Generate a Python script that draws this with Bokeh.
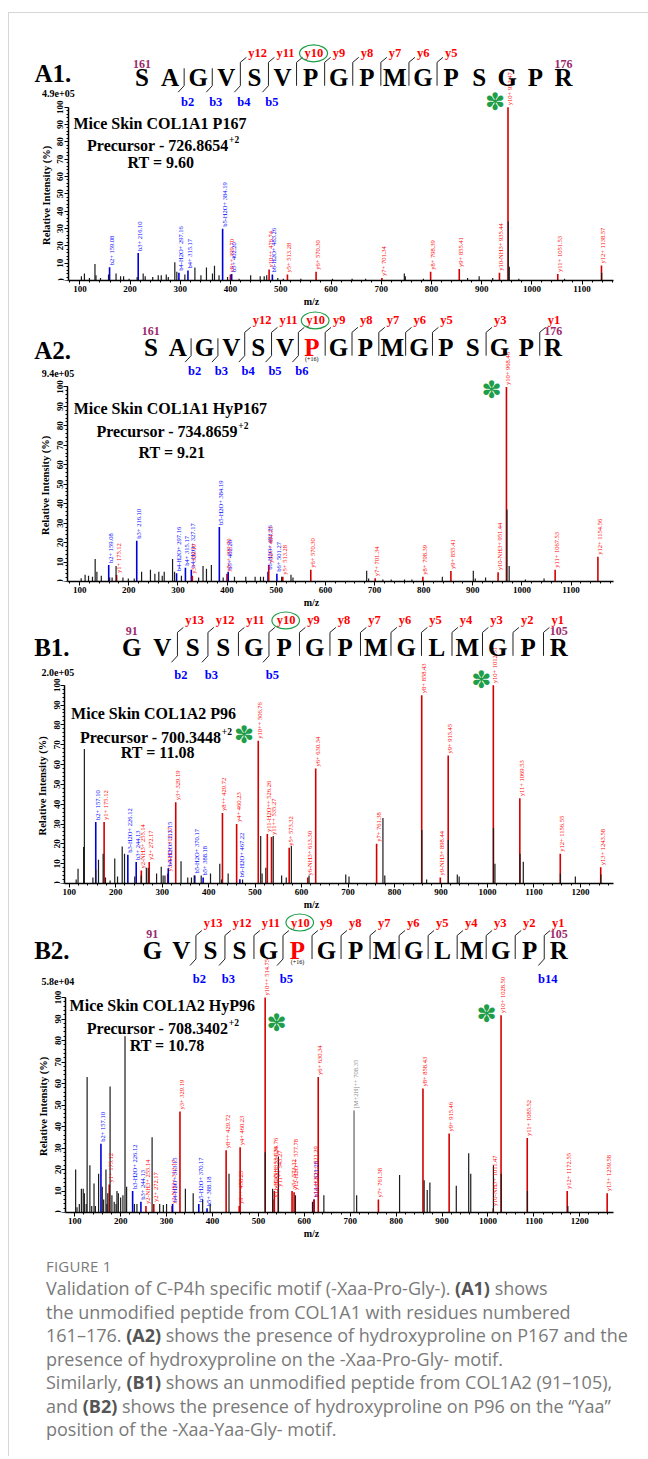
import math
from bokeh.plotting import figure
from bokeh.models import Range1d, SingleIntervalTicker, ColumnDataSource, Div
from bokeh.layouts import column
from bokeh.core.properties import value
from bokeh.embed import file_html
from bokeh.resources import INLINE

SERIF = "Liberation Serif"

# ---------------------------------------------------------------- data
# ----- A1 : COL1A1 P167
a1_seq = list("SAGVSVPGPMGPSGPR")
a1_numbers = ["161", "176"]
a1_y_ions = [12, 11, 10, 9, 8, 7, 6, 5]
a1_b_ions = [2, 3, 4, 5]
a1_texts = ["Mice Skin COL1A1 P167", "Precursor - 726.8654", "+2", "RT = 9.60", "4.9e+05"]
a1_ion_name = ["b2+", "b3+", "b4-H2O+", "b4+", "b5-H2O+", "y8++", "b5+", "y10++", "b6-H2O+", "y5+",
               "y6+", "y7+", "y8+", "y9+", "y10-NH3+", "y10+", "y11+", "y12+"]
a1_ion_mz = [159.08, 216.10, 297.16, 315.17, 384.19, 399.70, 402.20, 476.74, 483.26, 513.28,
             570.30, 701.34, 798.39, 855.41, 935.44, 952.47, 1051.53, 1138.57]
a1_ion_int = [7.6, 15.8, 4.5, 5.7, 29.8, 3.5, 3.8, 6.3, 3.5, 3.5,
              5.0, 1.5, 5.0, 6.7, 4.4, 100, 3.8, 8.6]
a1_noise_mz = [103, 109, 119, 130, 132, 141, 157, 172, 181, 187, 198, 214, 226, 230, 245, 256, 262,
               272, 276, 289, 293, 309, 329, 341, 352, 364, 368, 377, 394, 417, 440, 459, 467, 472,
               494, 505, 540, 603, 642, 669, 746, 748, 784, 872, 895, 922, 953, 955, 974, 1065, 1139]
a1_noise_int = [2.5, 4, 1.5, 9.5, 3, 1.5, 3.5, 4, 2.5, 2.5, 1, 2, 4, 2.5, 2, 3, 3,
                3.5, 2, 10.5, 5, 3.5, 7.5, 3, 7.5, 4, 8.5, 3, 2, 1, 3, 2.5, 2.5, 3,
                1.5, 1, 1, 1, 1, 1, 4, 2.5, 1, 1.5, 2.5, 1.5, 34, 8, 1, 1, 4.5]

# ----- A2 : COL1A1 HyP167
a2_seq = list("SAGVSVPGPMGPSGPR")
a2_numbers = ["161", "176"]
a2_y_ions = [12, 11, 10, 9, 8, 7, 6, 5, 3, 1]
a2_b_ions = [2, 3, 4, 5, 6]
a2_texts = ["Mice Skin COL1A1 HyP167", "Precursor - 734.8659", "+2", "RT = 9.21", "9.4e+05"]
a2_ion_name = ["b2+", "y1+", "b3+", "b4-H2O+", "b4+", "b4-H2O+", "y3+", "b5-H2O+", "y8++", "b5+",
               "b6-H2O+", "y10++", "b6+", "y5+", "y6+", "y7+", "y8+", "y9+", "y10-NH3+", "y10+",
               "y11+", "y12+"]
a2_ion_mz = [159.08, 175.12, 216.10, 297.16, 315.17, 327.17, 329.19, 384.19, 399.70, 402.20,
             483.26, 484.73, 501.27, 513.28, 570.30, 701.34, 798.39, 855.41, 951.44, 968.46,
             1067.53, 1154.56]
a2_ion_int = [8.5, 3.4, 21.0, 4.2, 7.1, 6.0, 3.0, 28.0, 4.0, 5.0,
              5.0, 8.5, 4.0, 2.5, 6.0, 1.7, 2.5, 5.4, 4.7, 100,
              6.0, 12.7]
a2_noise_mz = [103, 111, 118, 126, 131.5, 135, 144, 161, 166, 174, 188, 199, 211, 226, 244, 253, 261,
               268, 272, 289, 293, 307, 342, 351, 358, 368, 392, 415, 438, 457, 468, 474, 511, 530,
               534, 684, 688, 717, 734, 761, 776, 838, 901, 905, 926, 969.5, 974, 1007, 1045]
a2_noise_int = [1.7, 3.5, 3, 2.5, 11.5, 5, 3, 2, 2, 8, 2, 1.5, 1.5, 5, 6, 4, 5,
                3, 5, 11.5, 5, 3, 2, 8, 6.5, 8.5, 2, 2.5, 2.5, 2.5, 2.5, 2.5, 2.5, 3.5,
                2, 5.5, 1.5, 1, 1, 1, 1, 2.5, 5.5, 1.5, 2, 37, 8, 1, 1.5]

# ----- B1 : COL1A2 P96
b1_seq = list("GVSSGPGPMGLMGPR")
b1_numbers = ["91", "105"]
b1_y_ions = [13, 12, 11, 10, 9, 8, 7, 6, 5, 4, 3, 2, 1]
b1_b_ions = [2, 3, 5]
b1_texts = ["Mice Skin COL1A2 P96", "Precursor - 700.3448", "+2", "RT = 11.08", "2.0e+05"]
b1_ion_name = ["b2+", "y1+", "b3-H2O+", "b3+", "y2-NH3+", "y2+", "y3-NH3+", "b4-H2O+", "y3+",
               "b5-H2O+", "b5+", "y8++", "y4+", "b6-H2O+", "y10++", "y11-H2O++", "y11++", "y5+",
               "y6-NH3+", "y6+", "y7+", "y8+", "y9-NH3+", "y9+", "y10+", "y11+", "y12+", "y13+"]
b1_ion_mz = [157.10, 175.12, 226.12, 244.13, 255.14, 272.17, 312.17, 313.15, 329.19,
             370.17, 388.18, 429.72, 460.23, 467.22, 506.76, 526.26, 535.27, 573.32,
             613.30, 630.34, 761.38, 858.43, 898.44, 915.45, 1012.51, 1069.53, 1156.55, 1243.58]
b1_ion_int = [31, 31, 14.5, 10.8, 6.5, 10.8, 5, 7.7, 41,
              4, 3, 35.5, 30, 2.2, 72, 25, 23.5, 18,
              3, 58, 20, 95, 3, 64.5, 100, 43, 15, 8.2]
b1_noise_mz = [115, 119, 131, 132.6, 151, 157, 163, 173, 178, 188, 198, 204, 214, 219, 241, 255, 266,
               270, 288, 298, 302, 306, 340.6, 355, 363, 369, 384, 404, 424, 428, 442, 473, 512,
               515, 523, 539, 557, 567, 578, 616, 695, 702, 775, 779, 858.6, 869, 915.8, 935, 939,
               1012.9, 1016, 1069.9, 1077, 1156.9, 1189, 1243.9]
b1_noise_int = [2, 7.5, 18.4, 67.8, 3, 7, 12, 15, 3, 1.5, 12.6, 3.5, 18.6, 15, 3.5, 4, 8,
                8, 5, 8.5, 4, 4, 11.2, 3, 3, 4, 4, 5, 10, 2, 5, 2, 24,
                5, 8, 24, 4, 3, 19, 4, 4.5, 3.5, 33, 4, 27, 2, 22, 4.5, 3.5,
                28, 10, 15, 11, 5, 3.5, 4.5]

# ----- B2 : COL1A2 HyP96
b2_seq = list("GVSSGPGPMGLMGPR")
b2_numbers = ["91", "105"]
b2_y_ions = [13, 12, 11, 10, 9, 8, 7, 6, 5, 4, 3, 2, 1]
b2_b_ions = [2, 3, 5, 14]
b2_texts = ["Mice Skin COL1A2 HyP96", "Precursor - 708.3402", "+2", "RT = 10.78", "5.8e+04"]
b2_ion_name = ["b2+", "y1+", "b3-H2O+", "b3+", "y2-NH3+", "y2+", "y3-NH3+", "b4-H2O+", "y3+",
               "b5-H2O+", "b5+", "y8++", "y9++", "y4+", "y10++", "y11-H2O++", "y11-NH3++", "y11++",
               "y5+", "y12-H2O++", "b14++", "y13-H2O++", "y6+", "[M+2H]++", "y7+", "y8+", "y9+",
               "y10-NH3+", "y10+", "y11+", "y12+", "y13+"]
b2_ion_mz = [157.10, 175.12, 226.12, 244.13, 255.14, 272.17, 312.17, 313.15, 329.19,
             370.17, 388.18, 429.72, 458.23, 460.23, 514.75, 534.26, 534.76, 543.27,
             573.32, 577.78, 621.28, 621.29, 630.34, 708.35, 761.38, 858.43, 915.46,
             1011.47, 1028.50, 1085.52, 1172.55, 1259.58]
b2_ion_int = [32, 13, 10, 5, 3, 4, 3, 4, 47,
              4, 2, 29, 3, 30.3, 100, 6, 10, 11,
              10, 9.4, 6, 6, 63, 47.5, 6, 57.7, 36.7,
              2, 91.8, 34.7, 10, 9]
b2_noise_mz = [102, 105, 110, 114.5, 118.5, 121, 125, 127, 133, 137, 142, 145, 152, 160, 163, 168,
               170, 172, 177, 181, 186, 190, 192, 195, 200, 205, 209.5, 213, 230, 235.5, 268.5, 285,
               293, 300, 341, 358, 378.6, 395, 436, 514.9, 531, 543.6, 580.7, 617.8, 642.6, 714,
               807.5, 861, 867.7, 873.5, 931, 958, 962.5, 1011.9, 1028.9, 1086, 1174]
b2_noise_int = [20, 2.5, 4, 11, 11, 9, 4, 63, 22, 3, 13.5, 3, 18, 12, 6, 20,
                4, 9, 58.6, 8, 5, 4, 10, 9, 7, 8, 82, 12, 4, 4, 35, 4,
                3.5, 4, 11, 9, 6, 4, 18, 28, 11, 26, 8, 5, 8, 8,
                17.5, 15, 10.5, 14, 12.5, 27.6, 18, 22, 18, 10, 3]

caption_title = "FIGURE 1"
caption_lines = [
    "Validation of C-P4h specific motif (-Xaa-Pro-Gly-). <b>(A1)</b> shows",
    "the unmodified peptide from COL1A1 with residues numbered",
    "161\u2013176. <b>(A2)</b> shows the presence of hydroxyproline on P167 and the",
    "presence of hydroxyproline on the -Xaa-Pro-Gly- motif.",
    "Similarly, <b>(B1)</b> shows an unmodified peptide from COL1A2 (91\u2013105),",
    "and <b>(B2)</b> shows the presence of hydroxyproline on P96 on the \u201cYaa\u201d",
    "position of the -Xaa-Yaa-Gly- motif.",
]

# ---------------------------------------------------------------- layout
PAGE_X0 = 9          # left edge of the figures on the page (8px margin + 1px border)
FIG_W = 631
RED_LINE, BLUE_LINE, GRAY_LINE = "#d40000", "#0000d8", "#8a8a8a"
RED_TXT, BLUE_TXT, GRAY_TXT = "#ff0000", "#0000ff", "#8a8a8a"
GREEN = "#1e9e48"
NUM_COL = "#9b2a6c"

panels = [
    dict(tag="A1.", seq=a1_seq, nums=a1_numbers, yi=a1_y_ions, bi=a1_b_ions, texts=a1_texts,
         names=a1_ion_name, mz=a1_ion_mz, inten=a1_ion_int, nmz=a1_noise_mz, nint=a1_noise_int,
         mod=None,
         top=13, y100=107, y0=281, bottom=309, fl=68, fr=613, x100=79.4, ppm=0.5022,
         x0=141.5, step=28.1, seq_y=77, ylab_y=53, num_y=64, blab_y=102, mod_y=None,
         tag_xy=(34, 73), scale_xy=(41.5, 93),
         title_xy=(73, 123), prec_xy=(228, 145), rt_xy=(127, 163),
         stars=[(15, -13, -5)], free_stars=[]),
    dict(tag="A2.", seq=a2_seq, nums=a2_numbers, yi=a2_y_ions, bi=a2_b_ions, texts=a2_texts,
         names=a2_ion_name, mz=a2_ion_mz, inten=a2_ion_int, nmz=a2_noise_mz, nint=a2_noise_int,
         mod=6,
         top=309, y100=387, y0=583, bottom=610, fl=68, fr=620, x100=80.0, ppm=0.4971,
         x0=152, step=27.13, seq_y=347, ylab_y=320, num_y=331, blab_y=371, mod_y=359,
         tag_xy=(34, 350), scale_xy=(41.5, 373),
         title_xy=(74, 409), prec_xy=(240, 432), rt_xy=(139.6, 453),
         stars=[(19, -15, 3)], free_stars=[]),
    dict(tag="B1.", seq=b1_seq, nums=b1_numbers, yi=b1_y_ions, bi=b1_b_ions, texts=b1_texts,
         names=b1_ion_name, mz=b1_ion_mz, inten=b1_ion_int, nmz=b1_noise_mz, nint=b1_noise_int,
         mod=None,
         top=610, y100=685, y0=884, bottom=912, fl=65, fr=622, x100=69.6, ppm=0.4717,
         x0=133, step=30.96, seq_y=647, ylab_y=620, num_y=631, blab_y=675, mod_y=None,
         tag_xy=(34, 647), scale_xy=(41.5, 672),
         title_xy=(71.5, 713), prec_xy=(224, 737), rt_xy=(122, 753),
         stars=[(24, -12, -5)], free_stars=[(247, 735)]),
    dict(tag="B2.", seq=b2_seq, nums=b2_numbers, yi=b2_y_ions, bi=b2_b_ions, texts=b2_texts,
         names=b2_ion_name, mz=b2_ion_mz, inten=b2_ion_int, nmz=b2_noise_mz, nint=b2_noise_int,
         mod=5,
         top=912, y100=997, y0=1212, bottom=1241, fl=66, fr=622, x100=75.2, ppm=0.466,
         x0=154, step=29.46, seq_y=950, ylab_y=922, num_y=933, blab_y=978, mod_y=961,
         tag_xy=(34, 950), scale_xy=(41.5, 981),
         title_xy=(70, 1005), prec_xy=(231, 1028), rt_xy=(131, 1045),
         stars=[(28, -14.5, -1.6), (14, 11.5, 25)], free_stars=[]),
]


def ion_colors(name):
    if name.startswith("b"):
        return BLUE_LINE, BLUE_TXT
    if name.startswith("y"):
        return RED_LINE, RED_TXT
    return GRAY_LINE, GRAY_TXT


def ptext(p, xs, ys, texts, size, color, align="left", style="bold", font=SERIF, **kw):
    p.text(x=xs, y=ys, text=texts, x_range_name="px", y_range_name="py", text_align=align,
           text_baseline="middle", text_font=value(font), text_font_style=style,
           text_font_size=size, text_color=color, **kw)


def make_panel(c):
    t, y100, y0, bot = c["top"], c["y100"], c["y0"], c["bottom"]
    fl, fr = c["fl"], c["fr"]
    x100, ppm = c["x100"], c["ppm"]
    left_px = PAGE_X0
    xs = 100 - (x100 - left_px) / ppm
    xe = 100 + (fr - x100) / ppm
    x_axis_start = 100 - (x100 - fl) / ppm
    ye = 100.0 * (y0 - t) / (y0 - y100)
    p = figure(width=FIG_W, height=bot - t, x_range=Range1d(xs, xe), y_range=Range1d(0, ye),
               output_backend="svg", toolbar_location=None,
               min_border_left=0, min_border_right=PAGE_X0 + FIG_W - fr,
               min_border_top=0, min_border_bottom=bot - y0,
               outline_line_color=None, background_fill_color="white", border_fill_color="white")
    p.extra_x_ranges = {"px": Range1d(left_px, fr)}
    p.extra_y_ranges = {"py": Range1d(y0, t)}
    p.grid.visible = False

    # axes
    p.xaxis.ticker = SingleIntervalTicker(interval=100, num_minor_ticks=5)
    p.yaxis.ticker = SingleIntervalTicker(interval=10, num_minor_ticks=5)
    p.yaxis.bounds = (0, 100)
    p.xaxis.bounds = (x_axis_start, xe)
    p.yaxis.fixed_location = x_axis_start
    for ax in (p.xaxis[0], p.yaxis[0]):
        ax.axis_line_width = 1.5
        ax.axis_line_color = "black"
        ax.major_tick_out = 4
        ax.major_tick_in = 0
        ax.minor_tick_out = 2
        ax.minor_tick_in = 0
        ax.major_tick_line_width = 1
        ax.major_label_text_font = SERIF
        ax.major_label_text_font_style = "bold"
        ax.major_label_text_font_size = "9px"
        ax.major_label_text_color = "black"
        ax.major_label_standoff = 1
        ax.axis_label_text_font = SERIF
        ax.axis_label_text_font_style = "bold"
        ax.axis_label_text_color = "black"
        ax.axis_label_standoff = 1
    p.yaxis.major_label_orientation = "vertical"
    p.xaxis.axis_label = "m/z"
    p.xaxis.axis_label_text_font_size = "10px"
    p.yaxis.axis_label = "Relative  Intensity (%)"
    p.yaxis.axis_label_text_font_size = "10.5px"
    p.yaxis.axis_label_standoff = 3

    # peaks
    lc, tc, lab = [], [], []
    for n, m in zip(c["names"], c["mz"]):
        a, b = ion_colors(n)
        lc.append(a)
        tc.append(b)
        lab.append(f"{n} {m:.2f}")
    ions = ColumnDataSource(dict(mz=c["mz"], inten=c["inten"], lc=lc, tc=tc, label=lab))
    noise = ColumnDataSource(dict(mz=c["nmz"], inten=c["nint"]))
    p.segment(x0="mz", y0=0, x1="mz", y1="inten", line_color="lc", line_width=1.6, source=ions)
    p.segment(x0="mz", y0=0, x1="mz", y1="inten", line_color="#1c1c1c", line_width=1.2, source=noise)
    p.text(x="mz", y="inten", text="label", angle=math.pi / 2, text_align="left",
           text_baseline="middle", x_offset=1.5, y_offset=-2, text_font=value(SERIF),
           text_font_size="6.5px", text_color="tc", source=ions)

    # stars attached to peaks
    for idx, dx, dy in c["stars"]:
        p.text(x=[c["mz"][idx]], y=[c["inten"][idx]], text=["\u273d"], x_offset=dx, y_offset=dy,
               text_align="center", text_baseline="middle", text_font=value("DejaVu Sans"),
               text_font_size="24px", text_color=GREEN)
    for sx, sy in c["free_stars"]:
        ptext(p, [sx], [sy], ["\u273d"], "24px", GREEN, align="center", style="normal",
              font="DejaVu Sans")

    # ------------- sequence header
    seq = c["seq"]
    n = len(seq)
    xl = [c["x0"] + i * c["step"] for i in range(n)]
    cols = ["#ff0000" if i == c["mod"] else "black" for i in range(n)]
    yc = c["seq_y"]
    ptext(p, xl, [yc] * n, seq, "25px", cols, align="center")
    ptext(p, [xl[0], xl[-1]], [c["num_y"]] * 2, c["nums"], "12px", NUM_COL, align="center")
    if c["mod"] is not None:
        ptext(p, [xl[c["mod"]]], [c["mod_y"]], ["(+16)"], "6px", "black", align="center",
              style="normal")

    vx0, vy0, vx1, vy1 = [], [], [], []
    ylx, yly, ylt = [], [], []
    blx, bly, blt = [], [], []
    y10x = None
    for k in range(1, n):
        has_y = (n - k) in c["yi"]
        has_b = k in c["bi"]
        if not (has_y or has_b):
            continue
        xb = (xl[k - 1] + xl[k]) / 2
        top = yc - 15 if has_y else yc - 9
        vx0.append(xb); vy0.append(top); vx1.append(xb); vy1.append(yc + 8.5)
        if has_y:
            vx0.append(xb); vy0.append(top); vx1.append(xb + 6); vy1.append(top - 5)
            ylx.append(xb + 8); yly.append(c["ylab_y"]); ylt.append(f"y{n - k}")
            if n - k == 10:
                y10x = xb + 8
        if has_b:
            vx0.append(xb); vy0.append(yc + 8.5); vx1.append(xb - 6); vy1.append(yc + 15)
            blx.append(xb + 3.5); bly.append(c["blab_y"]); blt.append(f"b{k}")
    p.segment(x0=vx0, y0=vy0, x1=vx1, y1=vy1, x_range_name="px", y_range_name="py",
              line_color="#222222", line_width=1)
    ptext(p, ylx, yly, ylt, "12.5px", RED_TXT)
    ptext(p, blx, bly, blt, "12.5px", BLUE_TXT, align="center")
    if y10x is not None:
        p.ellipse(x=[y10x + 9], y=[c["ylab_y"]], width=28, height=17, x_range_name="px",
                  y_range_name="py", fill_color=None, line_color=GREEN, line_width=1.2)

    # inner texts
    tt = c["texts"]
    ptext(p, [c["title_xy"][0]], [c["title_xy"][1]], [tt[0]], "16px", "black")
    ptext(p, [c["prec_xy"][0]], [c["prec_xy"][1]], [tt[1]], "16px", "black", align="right")
    ptext(p, [c["prec_xy"][0] + 0.5], [c["prec_xy"][1] - 6], [tt[2]], "9.5px", "black")
    ptext(p, [c["rt_xy"][0]], [c["rt_xy"][1]], [tt[3]], "16px", "black")

    # panel tag and intensity scale in the left margin
    ptext(p, [c["tag_xy"][0]], [c["tag_xy"][1]], [c["tag"]], "25px", "black")
    ptext(p, [c["scale_xy"][0]], [c["scale_xy"][1]], [tt[4]], "10px", "black")
    return p


figs = [make_panel(c) for c in panels]

cap_html = (
    "<div style=\"font-family:'Open Sans',sans-serif;color:#7a7a7a;padding-left:32px;\">"
    "<div style=\"margin-top:12px;font-size:15px;line-height:16px;letter-spacing:0.2px;\">"
    + caption_title + "</div>"
    "<div style=\"margin-top:3px;font-size:18px;line-height:23.5px;white-space:nowrap;\">"
    + "<br>".join(l.replace("<b>", "<b style=\"color:#555;\">") for l in caption_lines)
    + "</div></div>"
)
cap = Div(text=cap_html, width=639, height=205)

layout = column(*figs, cap, spacing=0, margin=(12, 0, 0, 8),
                styles={"border-left": "1px solid #d6d6d6", "border-top": "1px solid #d6d6d6"})

open("out.html", "w").write(file_html(layout, INLINE))
